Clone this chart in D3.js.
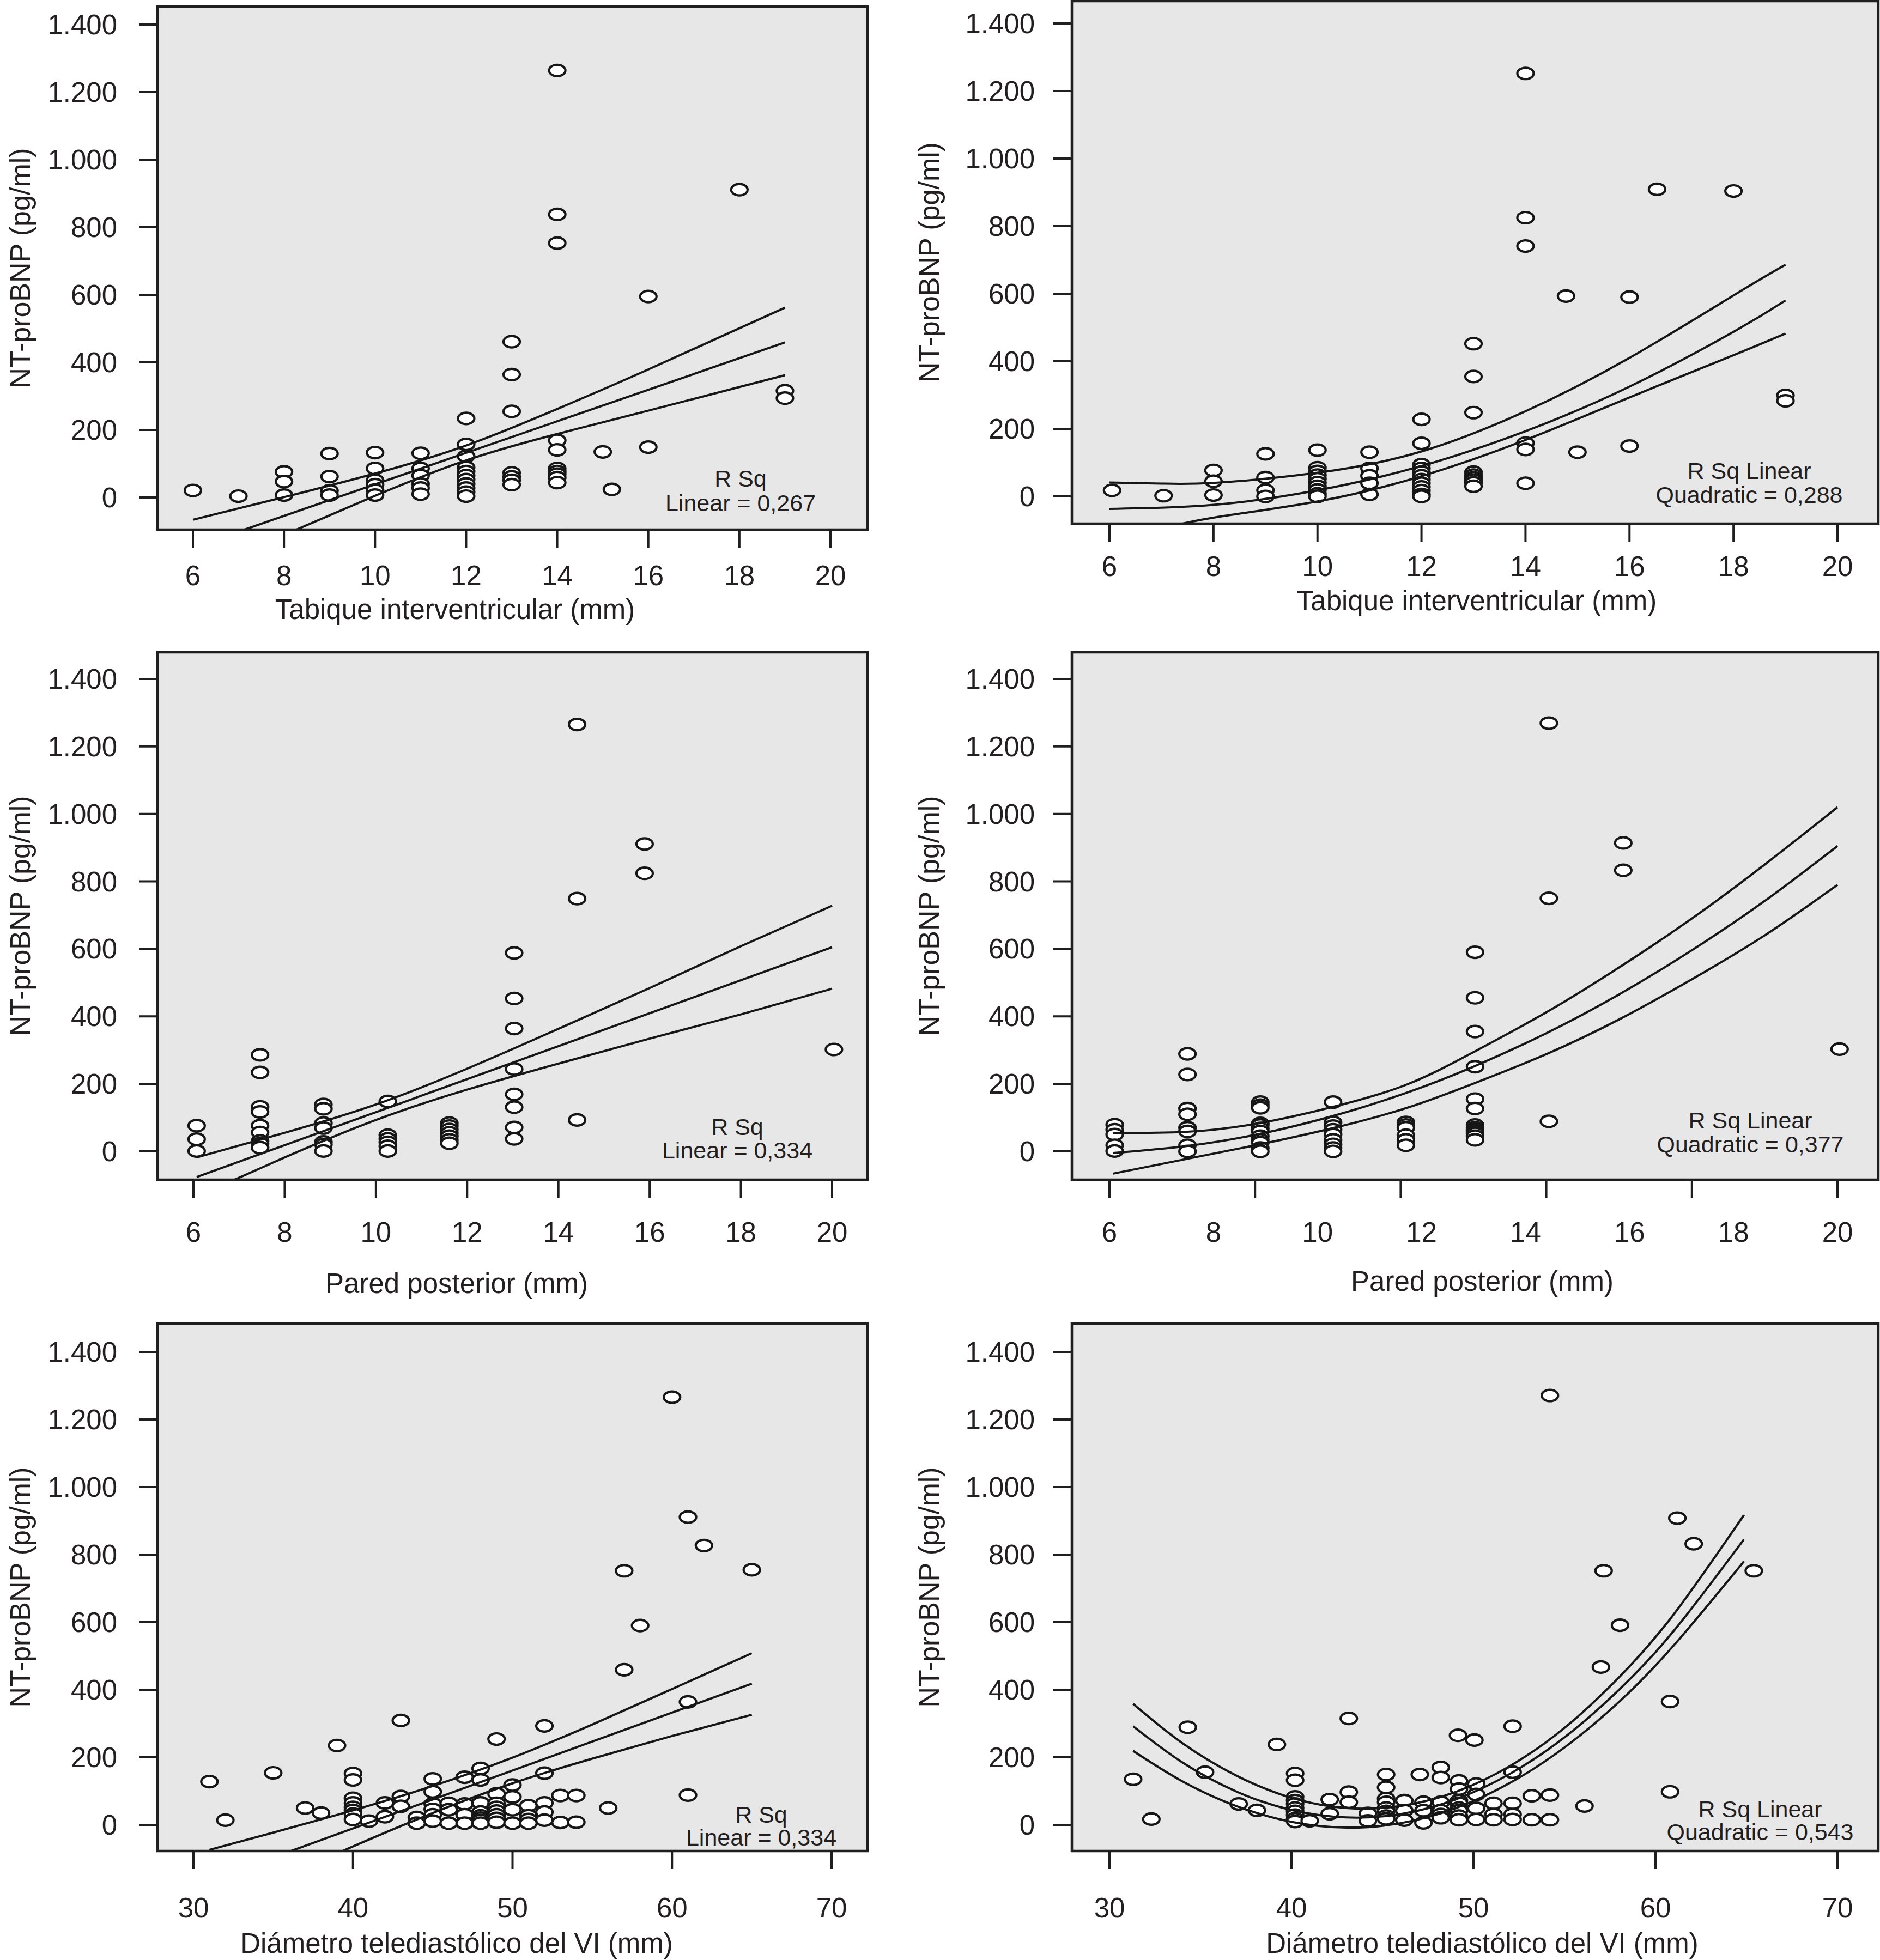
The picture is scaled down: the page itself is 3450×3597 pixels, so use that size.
<!DOCTYPE html>
<html>
<head>
<meta charset="utf-8">
<script src="https://cdn.jsdelivr.net/npm/d3@7"></script>
<style>
  body { margin: 0; background: #fff; }
  text { font-family: "Liberation Sans", Arial, Helvetica, sans-serif; fill: #231f20; }
</style>
</head>
<body>
<div id="chart"></div>
<script>
// ---- values ----
// scatter points are grouped as [x, [y, y, ...]]

// Tabique interventricular, linear fit
var tabiqueLinPts = [
  [6, [21]], [7, [4]], [8, [76, 47, 7]], [9, [130, 62, 20, 7]],
  [10, [133, 86, 51, 38, 22, 7]], [11, [131, 86, 65, 40, 28, 10]],
  [12, [234, 157, 122, 89, 77, 65, 53, 40, 28, 16, 4]],
  [13, [461, 364, 255, 73, 61, 51, 38]],
  [14, [1264, 838, 753, 169, 141, 86, 77, 69, 59, 44]],
  [15, [135]], [15.2, [24]], [16, [595, 149]], [18, [911]], [19, [316, 294]]
];
var tabiqueLinUpper = [[6, -66], [8, 1], [10, 71], [12, 154], [14, 262], [16, 379], [19, 562]];
var tabiqueLinMid = [[6, -148], [19, 459]];
var tabiqueLinLower = [[6, -230], [8, -111], [10, 5], [12, 110], [14, 188], [16, 257], [19, 362]];

// Tabique interventricular, quadratic fit
var tabiqueQuadPts = [
  [6.05, [18]], [7.04, [2]], [8, [77, 45, 4]], [9, [126, 56, 18, 0]],
  [10, [137, 85, 74, 63, 52, 41, 30, 19, 8, 0]], [11, [131, 83, 61, 39, 6]],
  [12, [228, 157, 94, 83, 72, 61, 50, 39, 28, 17, 6, 0]],
  [13, [452, 355, 248, 72, 63, 55, 48, 40, 30]],
  [14, [1252, 825, 741, 158, 139, 39]], [14.78, [593]], [15, [131]],
  [16, [590, 149]], [16.53, [909]], [18, [904]], [19, [299, 283]]
];
var tabiqueQuadUpper = [[6, 41], [7, 38], [8, 40], [10, 70], [12, 133], [14, 252], [16, 410], [18, 595], [19, 686]];
var tabiqueQuadMid = [[6, -37], [8, -25], [10, 18], [12, 90], [14, 193], [16, 325], [18, 487], [19, 580]];
var tabiqueQuadLower = [[6, -125], [7, -95], [8, -63], [10, -15], [12, 60], [14, 167], [16, 293], [18, 418], [19, 482]];

// Pared posterior, linear fit
var paredLinPts = [
  [6.07, [76, 36, 1]],
  [7.46, [286, 234, 132, 117, 76, 56, 31, 23, 11]],
  [8.85, [139, 126, 84, 69, 28, 20, 1]],
  [10.26, [148, 48, 37, 27, 15, 1]],
  [11.61, [84, 75, 65, 55, 45, 34, 24]],
  [13.03, [588, 453, 364, 244, 169, 131, 71, 37]],
  [14.41, [1265, 749, 93]], [15.89, [911, 824]], [20.04, [302]]
];
var paredLinUpper = [[6.07, -18], [8, 55], [10, 139], [12, 245], [14, 363], [16, 484], [18, 608], [20, 728]];
var paredLinMid = [[6.07, -76], [20, 605]];
var paredLinLower = [[6.07, -134], [8, -18], [10, 93], [12, 183], [14, 260], [16, 334], [18, 406], [20, 482]];

// Pared posterior, quadratic fit
var paredQuadPts = [
  [6.1, [79, 64, 50, 18, 1]],
  [7.5, [289, 228, 127, 110, 70, 59, 18, 0]],
  [8.9, [146, 137, 129, 83, 78, 68, 59, 45, 34, 26, 10, 0]],
  [10.3, [146, 86, 75, 64, 50, 34, 21, 10, 0]],
  [11.7, [86, 78, 70, 48, 34, 18]],
  [13.03, [590, 455, 355, 251, 155, 127, 78, 70, 64, 59, 53, 45, 34]],
  [14.45, [1269, 750, 89]], [15.88, [914, 833]], [20.04, [303]]
];
var paredQuadUpper = [[6.07, 55], [7.5, 58], [8.9, 84], [10.3, 132], [11.7, 197], [13, 294], [14.4, 412], [15.8, 545], [17.2, 690], [18.6, 850], [20, 1020]];
var paredQuadMid = [[6.07, -5], [7.5, 16], [8.9, 52], [10.3, 105], [11.7, 173], [13, 251], [14.4, 350], [15.8, 465], [17.2, 596], [18.6, 742], [20, 905]];
var paredQuadLower = [[6.07, -66], [7.5, -22], [8.9, 21], [10.3, 69], [11.7, 128], [13, 201], [14.4, 288], [15.8, 391], [17.2, 510], [18.6, 640], [20, 790]];

// Diametro telediastolico, linear fit
var dtdLinPts = [
  [31, [128]], [32, [14]], [35, [154]], [37, [50]], [38, [35]], [39, [235]],
  [40, [152, 133, 79, 65, 52, 43, 32, 16]], [41, [11]], [42, [65, 24]],
  [43, [309, 84, 55]], [44, [22, 5]], [45, [136, 98, 62, 46, 30, 11]],
  [46, [64, 45, 5]], [47, [141, 62, 30, 5]],
  [48, [167, 133, 65, 38, 27, 20, 13, 5]],
  [49, [254, 92, 64, 52, 41, 30, 19, 8]],
  [50, [118, 83, 45, 5]], [51, [57, 27, 16, 5]], [52, [293, 153, 65, 38, 14]],
  [53, [87, 7]], [54, [87, 8]], [56, [50]], [57, [752, 459]], [58, [590]],
  [60, [1266]], [61, [911, 364, 88]], [62, [827]], [65, [755]]
];
var dtdLinUpper = [[31, -74], [35, -23], [40, 43], [45, 115], [50, 199], [55, 297], [60, 402], [65, 508]];
var dtdLinMid = [[31, -165], [65, 418]];
var dtdLinLower = [[31, -256], [35, -170], [40, -64], [45, 35], [50, 123], [55, 196], [60, 263], [65, 326]];

// Diametro telediastolico, quadratic fit
var dtdQuadPts = [
  [31.3, [135]], [32.3, [17]], [34.3, [289]], [35.25, [156]], [37.1, [62]],
  [38.1, [43]], [39.2, [238]], [40.2, [152, 132, 83, 72, 62, 50, 40, 29, 18, 10]],
  [41, [12]], [42.1, [75, 33]], [43.15, [315, 97, 67]], [44.2, [34, 12]],
  [45.2, [149, 111, 78, 67, 50, 40, 26, 18]], [46.2, [72, 42, 14]],
  [47.05, [149]], [47.25, [67, 42, 6]], [48.2, [170, 140, 67, 42, 31, 21]],
  [49.15, [265]], [49.2, [130, 106, 72, 64, 50, 42, 26, 15]],
  [50.05, [251]], [50.15, [121, 90, 49, 16]], [51.1, [64, 31, 15]],
  [52.15, [292, 156, 64, 31, 16]], [53.2, [86, 15]], [54.2, [1271, 88, 15]],
  [56.1, [56]], [57, [467]], [57.15, [752]], [58.05, [591]], [60.8, [365, 98]],
  [61.2, [908]], [62.1, [832]], [65.4, [752]]
];
var dtdQuadUpper = [[31.3, 358], [34, 242], [37, 145], [40, 80], [43, 50], [46, 56], [49, 97], [52, 174], [55, 287], [58, 437], [61, 623], [64.86, 917]];
var dtdQuadMid = [[31.3, 292], [34, 185], [37, 98], [40, 44], [43, 22], [46, 32], [49, 75], [52, 151], [55, 259], [58, 400], [61, 574], [64.86, 845]];
var dtdQuadLower = [[31.3, 219], [34, 129], [37, 55], [40, 9], [43, -8], [46, 5], [49, 49], [52, 124], [55, 229], [58, 364], [61, 531], [64.86, 780]];

// axes and labels
var yTickValues = [0, 200, 400, 600, 800, 1000, 1200, 1400];
var mmTicks = [6, 8, 10, 12, 14, 16, 18, 20];
var dtdTicks = [30, 40, 50, 60, 70];
var paredQuadTickMarks = [6, 8.8, 11.6, 14.4, 17.2, 20];
var yTitle = "NT-proBNP (pg/ml)";
var xTitles = ["Tabique interventricular (mm)", "Pared posterior (mm)", "Diámetro telediastólico del VI (mm)"];
var rsqLines = [
  ["R Sq", "Linear = 0,267"],
  ["R Sq Linear", "Quadratic = 0,288"],
  ["R Sq", "Linear = 0,334"],
  ["R Sq Linear", "Quadratic = 0,377"],
  ["R Sq", "Linear = 0,334"],
  ["R Sq Linear", "Quadratic = 0,543"]
];

// ---- layout ----
var W = 3450, H = 3597;
var fmt = d3.formatLocale({ decimal: ",", thousands: ".", grouping: [3], currency: ["", ""] }).format(",d");

var svg = d3.select("#chart").append("svg")
  .attr("width", W).attr("height", H)
  .attr("viewBox", "0 0 " + W + " " + H);

var panels = [
  { pts: tabiqueLinPts, upper: tabiqueLinUpper, mid: tabiqueLinMid, lower: tabiqueLinLower,
    xDom: [6, 20], xLabels: mmTicks, xMarks: mmTicks, xTitle: xTitles[0], rsq: rsqLines[0],
    box: [289, 12, 1592, 972], xRange: [354, 1524], yRange: [913, 45],
    labelGap: 74, labelDy: 84, titleDy: 146, titleX: 835, rsqX: 1359, rsqY: [878, 923], yTitleX: 55 },
  { pts: tabiqueQuadPts, upper: tabiqueQuadUpper, mid: tabiqueQuadMid, lower: tabiqueQuadLower,
    xDom: [6, 20], xLabels: mmTicks, xMarks: mmTicks, xTitle: xTitles[0], rsq: rsqLines[1],
    box: [1967, 2, 3447, 961], xRange: [2036, 3372], yRange: [911, 43],
    labelGap: 68, labelDy: 78, titleDy: 141, titleX: 2710, rsqX: 3210, rsqY: [864, 908], yTitleX: 1723 },
  { pts: paredLinPts, upper: paredLinUpper, mid: paredLinMid, lower: paredLinLower,
    xDom: [6, 20], xLabels: mmTicks, xMarks: mmTicks, xTitle: xTitles[1], rsq: rsqLines[2],
    box: [289, 1197, 1592, 2165], xRange: [355, 1527], yRange: [2113, 1246],
    labelGap: 74, labelDy: 96, titleDy: 190, titleX: 838, rsqX: 1353, rsqY: [2068, 2111], yTitleX: 55 },
  { pts: paredQuadPts, upper: paredQuadUpper, mid: paredQuadMid, lower: paredQuadLower,
    xDom: [6, 20], xLabels: mmTicks, xMarks: paredQuadTickMarks, xTitle: xTitles[1], rsq: rsqLines[3],
    box: [1967, 1197, 3447, 2165], xRange: [2036, 3372], yRange: [2113, 1246],
    labelGap: 68, labelDy: 96, titleDy: 186, titleX: 2720, rsqX: 3212, rsqY: [2056, 2100], yTitleX: 1723 },
  { pts: dtdLinPts, upper: dtdLinUpper, mid: dtdLinMid, lower: dtdLinLower,
    xDom: [30, 70], xLabels: dtdTicks, xMarks: dtdTicks, xTitle: xTitles[2], rsq: rsqLines[4],
    box: [289, 2429, 1592, 3397], xRange: [355, 1526], yRange: [3349, 2481],
    labelGap: 74, labelDy: 104, titleDy: 169, titleX: 838, rsqX: 1397, rsqY: [3330, 3372], yTitleX: 55 },
  { pts: dtdQuadPts, upper: dtdQuadUpper, mid: dtdQuadMid, lower: dtdQuadLower,
    xDom: [30, 70], xLabels: dtdTicks, xMarks: dtdTicks, xTitle: xTitles[2], rsq: rsqLines[5],
    box: [1967, 2429, 3447, 3397], xRange: [2036, 3372], yRange: [3349, 2481],
    labelGap: 68, labelDy: 104, titleDy: 169, titleX: 2720, rsqX: 3230, rsqY: [3320, 3362], yTitleX: 1723 }
];

panels.forEach(function (p, i) {
  var x = d3.scaleLinear().domain(p.xDom).range(p.xRange);
  var y = d3.scaleLinear().domain([0, 1400]).range(p.yRange);
  var b = p.box;
  var g = svg.append("g");

  // plot area
  g.append("rect")
    .attr("x", b[0]).attr("y", b[1])
    .attr("width", b[2] - b[0]).attr("height", b[3] - b[1])
    .attr("fill", "#e7e7e7");

  svg.append("clipPath").attr("id", "clip" + i)
    .append("rect")
    .attr("x", b[0]).attr("y", b[1])
    .attr("width", b[2] - b[0]).attr("height", b[3] - b[1]);

  // points
  var flat = [];
  p.pts.forEach(function (d) {
    d[1].forEach(function (v) { flat.push([d[0], v]); });
  });
  g.append("g").selectAll("ellipse")
    .data(flat)
    .join("ellipse")
    .attr("cx", function (d) { return x(d[0]); })
    .attr("cy", function (d) { return y(d[1]); })
    .attr("rx", 15).attr("ry", 10.5)
    .attr("fill", "#fff")
    .attr("stroke", "#161616")
    .attr("stroke-width", 4.2);

  // fit line and confidence bands
  var line = d3.line()
    .x(function (d) { return x(d[0]); })
    .y(function (d) { return y(d[1]); })
    .curve(d3.curveNatural);
  g.append("g").attr("clip-path", "url(#clip" + i + ")")
    .selectAll("path")
    .data([p.upper, p.mid, p.lower])
    .join("path")
    .attr("d", line)
    .attr("fill", "none")
    .attr("stroke", "#161616")
    .attr("stroke-width", 4);

  // frame
  g.append("rect")
    .attr("x", b[0]).attr("y", b[1])
    .attr("width", b[2] - b[0]).attr("height", b[3] - b[1])
    .attr("fill", "none")
    .attr("stroke", "#1f1f1f")
    .attr("stroke-width", 4.5);

  // y axis
  var yAx = g.append("g");
  yAx.selectAll("line").data(yTickValues).join("line")
    .attr("x1", b[0] - 34).attr("x2", b[0])
    .attr("y1", function (d) { return y(d); })
    .attr("y2", function (d) { return y(d); })
    .attr("stroke", "#1f1f1f").attr("stroke-width", 4);
  yAx.selectAll("text").data(yTickValues).join("text")
    .attr("x", b[0] - p.labelGap)
    .attr("y", function (d) { return y(d) + 18; })
    .attr("text-anchor", "end")
    .style("font-size", "51px")
    .text(function (d) { return fmt(d); });

  // x axis
  var xAx = g.append("g");
  xAx.selectAll("line").data(p.xMarks).join("line")
    .attr("x1", function (d) { return x(d); })
    .attr("x2", function (d) { return x(d); })
    .attr("y1", b[3]).attr("y2", b[3] + 33)
    .attr("stroke", "#1f1f1f").attr("stroke-width", 4);
  xAx.selectAll("text").data(p.xLabels).join("text")
    .attr("x", function (d) { return x(d); })
    .attr("y", b[3] + p.labelDy + 18)
    .attr("text-anchor", "middle")
    .style("font-size", "51px")
    .text(function (d) { return d; });

  // titles
  g.append("text")
    .attr("x", p.titleX)
    .attr("y", b[3] + p.titleDy + 18)
    .attr("text-anchor", "middle")
    .style("font-size", "51px")
    .text(p.xTitle);

  g.append("text")
    .attr("transform", "translate(" + p.yTitleX + "," + ((b[1] + b[3]) / 2) + ") rotate(-90)")
    .attr("text-anchor", "middle")
    .style("font-size", "52px")
    .text(yTitle);

  // R squared note
  g.append("g").selectAll("text").data(p.rsq).join("text")
    .attr("x", p.rsqX)
    .attr("y", function (d, k) { return p.rsqY[k] + 15; })
    .attr("text-anchor", "middle")
    .style("font-size", "43px")
    .text(function (d) { return d; });
});
</script>
</body>
</html>
